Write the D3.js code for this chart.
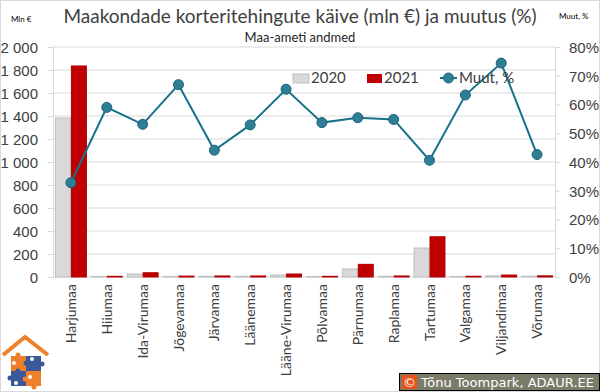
<!DOCTYPE html>
<html>
<head>
<meta charset="utf-8">
<script src="https://cdn.jsdelivr.net/npm/d3@7"></script>
<style>
  body { margin: 0; background: #fff; }
  svg { display: block; font-family: Lato, "Open Sans", sans-serif; }
</style>
</head>
<body>
<div id="chart"></div>
<script>
// data
const categories = ['Harjumaa', 'Hiiumaa', 'Ida-Virumaa', 'Jõgevamaa', 'Järvamaa', 'Läänemaa', 'Lääne-Virumaa',
  'Põlvamaa', 'Pärnumaa', 'Raplamaa', 'Tartumaa', 'Valgamaa', 'Viljandimaa', 'Võrumaa'];
const values2020 = [1383, 4, 26, 5, 6, 6, 17, 4, 70, 6, 252, 4, 10, 7];
const values2021 = [1835, 6, 37, 8, 9, 9, 26, 6, 110, 9, 350, 6.5, 17, 10];
const change = [32.8, 59.0, 53.1, 66.9, 44.1, 52.9, 65.3, 53.7, 55.4, 54.8, 40.6, 63.3, 74.4, 42.6];
const leftTicks = [0, 200, 400, 600, 800, 1000, 1200, 1400, 1600, 1800, 2000];
const rightTicks = [0, 10, 20, 30, 40, 50, 60, 70, 80];

const width = 600, height = 392;
const plot = { left: 53, right: 555, top: 47, bottom: 277 };
const txt = '#404040';
const grid = '#d9d9d9';

const svg = d3.select('#chart').append('svg')
  .attr('width', width)
  .attr('height', height);

svg.append('rect')
  .attr('x', 0.5).attr('y', 0.5)
  .attr('width', width - 1).attr('height', height - 1)
  .attr('fill', '#fff')
  .attr('stroke', grid);

const x0 = d3.scaleBand()
  .domain(categories)
  .range([plot.left, plot.right])
  .paddingInner(0.11)
  .paddingOuter(0.055);
const x1 = d3.scaleBand()
  .domain(['2020', '2021'])
  .range([0, x0.bandwidth()]);
const y = d3.scaleLinear().domain([0, 2000]).range([plot.bottom, plot.top]);
const yr = d3.scaleLinear().domain([0, 80]).range([plot.bottom, plot.top]);

// gridlines + left/right axes
const yAxisL = d3.axisLeft(y).tickValues(leftTicks)
  .tickSize(5)
  .tickFormat(d => d3.format(',')(d).replace(/,/g, ' '));
const gL = svg.append('g').attr('transform', `translate(${plot.left},0)`).call(yAxisL);
gL.select('.domain').attr('stroke', grid);
gL.selectAll('line').attr('stroke', grid);
gL.selectAll('text').attr('fill', txt).attr('font-size', 15).attr('x', -15).attr('dy', '0.35em');

svg.append('g').selectAll('line')
  .data(leftTicks.slice(1))
  .join('line')
  .attr('x1', plot.left).attr('x2', plot.right)
  .attr('y1', d => y(d)).attr('y2', d => y(d))
  .attr('stroke', grid);

const yAxisR = d3.axisRight(yr).tickValues(rightTicks)
  .tickSize(5)
  .tickFormat(d => d + '%');
const gR = svg.append('g').attr('transform', `translate(${plot.right},0)`).call(yAxisR);
gR.select('.domain').attr('stroke', grid);
gR.selectAll('line').attr('stroke', grid);
gR.selectAll('text').attr('fill', txt).attr('font-size', 15).attr('x', 14).attr('dy', '0.35em');

svg.append('line')
  .attr('x1', plot.left).attr('x2', plot.right)
  .attr('y1', plot.bottom).attr('y2', plot.bottom)
  .attr('stroke', grid);

// bars
const groups = svg.append('g').selectAll('g')
  .data(categories)
  .join('g')
  .attr('transform', d => `translate(${x0(d)},0)`);

groups.append('rect')
  .attr('x', x1('2020') + 0.5)
  .attr('y', (d, i) => y(values2020[i]))
  .attr('width', x1.bandwidth() - 1)
  .attr('height', (d, i) => plot.bottom - y(values2020[i]))
  .attr('fill', '#d9d9d9')
  .attr('stroke', '#bfbfbf')
  .attr('stroke-width', 1);

groups.append('rect')
  .attr('x', x1('2021') + 0.5)
  .attr('y', (d, i) => y(values2021[i]))
  .attr('width', x1.bandwidth() - 1)
  .attr('height', (d, i) => plot.bottom - y(values2021[i]))
  .attr('fill', '#c00000')
  .attr('stroke', '#b00000')
  .attr('stroke-width', 1);

// line
const cx = c => x0(c) + x0.bandwidth() / 2;
const line = d3.line()
  .x((d, i) => cx(categories[i]))
  .y(d => yr(d));
svg.append('path')
  .datum(change)
  .attr('d', line)
  .attr('fill', 'none')
  .attr('stroke', '#17718a')
  .attr('stroke-width', 2);

svg.append('g').selectAll('circle')
  .data(change)
  .join('circle')
  .attr('cx', (d, i) => cx(categories[i]))
  .attr('cy', d => yr(d))
  .attr('r', 5)
  .attr('fill', '#2e7f96')
  .attr('stroke', '#1d6275')
  .attr('stroke-width', 1);

// category labels
svg.append('g').selectAll('text')
  .data(categories)
  .join('text')
  .attr('transform', d => `translate(${cx(d) + 5},${plot.bottom + 7}) rotate(-90)`)
  .attr('text-anchor', 'end')
  .attr('font-size', 14)
  .attr('fill', txt)
  .text(d => d);

// titles
svg.append('text')
  .attr('x', 300).attr('y', 23)
  .attr('text-anchor', 'middle')
  .attr('font-size', 19)
  .attr('fill', txt)
  .text('Maakondade korteritehingute käive (mln €) ja muutus (%)');
svg.append('text')
  .attr('x', 300).attr('y', 42)
  .attr('text-anchor', 'middle')
  .attr('font-size', 13)
  .attr('fill', '#262626')
  .text('Maa-ameti andmed');
svg.append('text')
  .attr('x', 11).attr('y', 22)
  .attr('font-size', 8)
  .attr('fill', '#000')
  .text('Mln €');
svg.append('text')
  .attr('x', 559).attr('y', 19)
  .attr('font-size', 8)
  .attr('fill', '#000')
  .text('Muut, %');

// legend
const lg = svg.append('g').attr('transform', 'translate(0,78)');
lg.append('rect').attr('x', 293).attr('y', -4).attr('width', 16).attr('height', 9)
  .attr('fill', '#d9d9d9').attr('stroke', '#bfbfbf');
lg.append('text').attr('x', 311).attr('y', 0).attr('dy', '0.35em')
  .attr('font-size', 15).attr('fill', txt).text('2020');
lg.append('rect').attr('x', 367).attr('y', -4).attr('width', 15).attr('height', 9)
  .attr('fill', '#c00000');
lg.append('text').attr('x', 384).attr('y', 0).attr('dy', '0.35em')
  .attr('font-size', 15).attr('fill', txt).text('2021');
lg.append('line').attr('x1', 440).attr('x2', 457).attr('y1', 0).attr('y2', 0)
  .attr('stroke', '#17718a').attr('stroke-width', 2);
lg.append('circle').attr('cx', 448.5).attr('cy', 0).attr('r', 5)
  .attr('fill', '#2e7f96').attr('stroke', '#1d6275');
lg.append('text').attr('x', 459).attr('y', 0).attr('dy', '0.35em')
  .attr('font-size', 15).attr('fill', txt).text('Muut, %');

// logo (house of puzzle pieces)
const logo = svg.append('g').attr('transform', 'translate(0,333)');
logo.append('path')
  .attr('d', 'M3,22 L25,4 L48,22')
  .attr('fill', 'none').attr('stroke', '#f07f2a').attr('stroke-width', 4);
const pieces = [
  { x: 11, y: 23, c: '#f07f2a' }, { x: 26, y: 23, c: '#3b5998' },
  { x: 11, y: 38, c: '#3b5998' }, { x: 26, y: 38, c: '#f07f2a' }
];
pieces.forEach(p => {
  logo.append('rect').attr('x', p.x).attr('y', p.y).attr('width', 15).attr('height', 15).attr('fill', p.c);
});
[[18, 22, '#f07f2a'], [26, 30, '#3b5998'], [42, 31, '#3b5998'], [10, 45, '#3b5998'], [25, 46, '#f07f2a'], [34, 54, '#f07f2a'], [18, 38, '#3b5998']]
  .forEach(([a, b, c]) => logo.append('circle').attr('cx', a).attr('cy', b).attr('r', 2.5).attr('fill', c));
[[14, 30], [32, 26], [16, 50], [30, 44]].forEach(([a, b]) =>
  logo.append('circle').attr('cx', a).attr('cy', b).attr('r', 2).attr('fill', '#fff'));

// copyright box
const cp = svg.append('g');
cp.append('rect').attr('x', 399.5).attr('y', 373.5).attr('width', 200).attr('height', 17)
  .attr('fill', '#7b7b69').attr('stroke', '#000');
cp.append('rect').attr('x', 402).attr('y', 375).attr('width', 15).attr('height', 14).attr('fill', '#e8541c');
cp.append('text').attr('x', 409.5).attr('y', 387).attr('text-anchor', 'middle')
  .attr('font-family', 'DejaVu Sans').attr('font-size', 13).attr('fill', '#fff').text('©');
cp.append('text').attr('x', 421).attr('y', 387)
  .attr('font-family', 'DejaVu Sans').attr('font-size', 13).attr('fill', '#fff')
  .attr('textLength', 173).attr('lengthAdjust', 'spacingAndGlyphs')
  .text('Tõnu Toompark, ADAUR.EE');
</script>
</body>
</html>
